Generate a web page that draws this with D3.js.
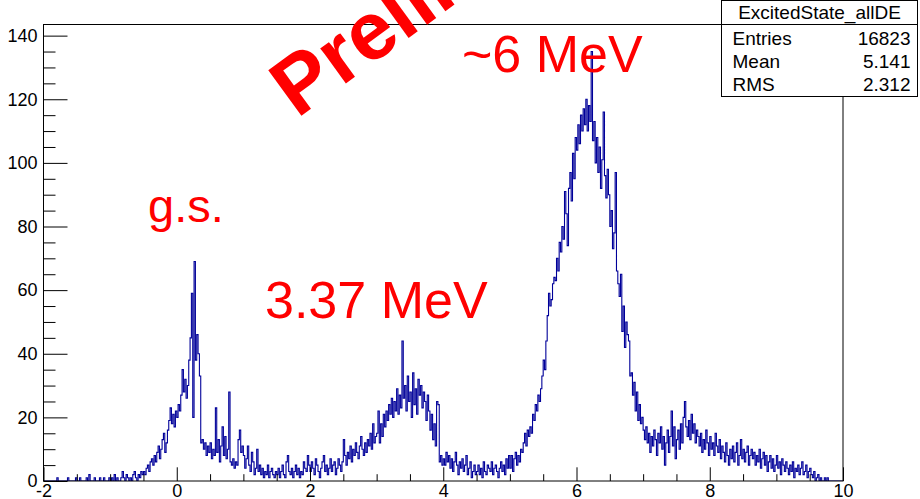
<!DOCTYPE html>
<html>
<head>
<meta charset="utf-8">
<script src="https://cdn.jsdelivr.net/npm/d3@7"></script>
<style>
  html, body { margin: 0; padding: 0; background: #ffffff; }
  svg { display: block; }
  text { font-family: "Liberation Sans", Arial, Helvetica, sans-serif; }
</style>
</head>
<body>
<svg id="chart" width="920" height="499"></svg>
<script>
// Histogram range and bin contents (600 bins of 0.02 MeV from -2 to 10)
const xRange = [-2, 10];
const counts = [
  // -2.00 .. -1.52
  0,0,0,0,0,0,0,0,0,0,1,0,0,0,0,0,0,0,1,0,0,0,0,0,1,
  // -1.50 .. -1.02
  0,0,1,0,0,0,0,1,0,2,0,0,0,1,0,0,0,1,0,0,1,0,0,0,1,
  // -1.00 .. -0.52
  0,1,0,2,0,1,0,0,1,3,1,0,2,1,0,1,0,2,3,1,0,2,1,3,2,
  // -0.50 .. -0.02
  3,2,4,5,3,6,7,5,8,6,9,11,7,10,13,15,9,12,16,19,23,18,21,17,22,
  // 0.00 .. 0.48
  20,24,22,27,35,28,32,26,30,38,45,59,20,69,38,46,40,33,12,13,10,12,8,11,9,
  // 0.50 .. 0.98
  12,7,10,8,23,9,13,6,11,17,8,14,7,10,28,6,5,7,4,6,5,13,16,9,11,
  // 1.00 .. 1.48
  8,4,7,11,5,3,9,6,2,4,10,3,5,2,4,1,3,2,5,1,3,4,2,1,3,
  // 1.50 .. 1.98
  2,4,1,3,5,2,1,6,8,3,2,4,1,3,5,2,4,1,3,2,6,4,3,8,5,
  // 2.00 .. 2.48
  3,6,4,2,7,5,3,1,4,6,8,3,5,2,4,7,3,5,6,2,4,7,5,3,6,
  // 2.50 .. 2.98
  13,8,5,9,7,11,6,10,8,12,9,7,11,14,10,8,12,9,13,11,15,10,18,12,14,
  // 3.00 .. 3.48
  15,22,12,18,14,21,17,22,19,24,21,26,20,25,22,29,21,27,23,44,26,30,22,33,25,
  // 3.50 .. 3.98
  28,20,34,24,29,21,32,27,30,23,28,25,19,27,22,16,21,13,18,11,25,24,6,8,5,
  // 4.00 .. 4.48
  7,5,9,6,8,4,7,3,6,9,5,2,6,4,7,3,5,8,2,4,6,1,3,5,2,
  // 4.50 .. 4.98
  3,5,2,4,1,6,3,2,5,4,3,6,2,4,5,3,1,4,6,3,5,2,7,4,8,
  // 5.00 .. 5.48
  4,8,3,7,9,5,8,6,10,9,12,15,11,16,14,17,15,21,19,24,22,27,25,29,33,
  // 5.50 .. 5.98
  38,35,44,52,59,55,57,62,64,63,70,66,75,72,80,76,91,84,74,92,97,88,103,95,108,
  // 6.00 .. 6.48
  104,112,106,115,110,117,112,120,110,118,113,135,107,113,100,108,97,105,92,101,116,96,89,98,90,
  // 6.50 .. 6.98
  80,85,73,78,97,66,62,58,65,47,55,42,50,46,44,33,34,27,31,22,28,19,24,18,20,
  // 7.00 .. 7.48
  16,13,17,12,15,9,14,11,16,13,8,15,12,17,10,14,5,12,16,9,14,22,11,17,7,
  // 7.50 .. 7.98
  13,16,10,18,12,20,25,17,14,19,13,21,15,18,12,16,14,11,15,9,13,10,16,12,8,
  // 8.00 .. 8.48
  14,10,12,8,15,11,9,13,7,11,9,6,12,8,5,10,7,11,6,9,12,5,8,13,7,
  // 8.50 .. 8.98
  10,6,9,11,5,8,10,7,9,5,8,6,10,4,7,9,5,8,3,6,8,4,7,3,5,
  // 9.00 .. 9.48
  8,4,6,2,7,5,3,6,4,2,5,3,6,1,4,3,5,2,4,6,2,3,5,1,3,
  // 9.50 .. 9.98
  4,2,1,3,0,1,2,0,1,0,0,1,0,1,0,0,0,0,0,0,0,0,0,0,0
];

const xTickValues = [-2, 0, 2, 4, 6, 8, 10];
const yTickValues = [0, 20, 40, 60, 80, 100, 120, 140];
const yMax = 143.5;

const statsTitle = "ExcitedState_allDE";
const statsLabels = ["Entries", "Mean", "RMS"];
const statsValues = ["16823", "5.141", "2.312"];

const peakLabels = ["g.s.", "3.37 MeV", "~6 MeV"];
const watermark = "Preliminary";

// ---- drawing ----
const frame = { left: 43.5, right: 843, top: 24.5, bottom: 481 };
const lineColor = "#000099";

const svg = d3.select("#chart");

const x = d3.scaleLinear().domain(xRange).range([frame.left, frame.right]);
const y = d3.scaleLinear().domain([0, yMax]).range([frame.bottom, frame.top]);

const nBins = counts.length;
const binW = (xRange[1] - xRange[0]) / nBins;

// clip for the histogram
svg.append("defs").append("clipPath").attr("id", "frameClip")
  .append("rect")
  .attr("x", frame.left).attr("y", frame.top)
  .attr("width", frame.right - frame.left).attr("height", frame.bottom - frame.top);

// step outline
const stepPts = counts.map((c, i) => [xRange[0] + i * binW, c]);
stepPts.push([xRange[1], counts[nBins - 1]]);
const line = d3.line()
  .x(d => x(d[0]))
  .y(d => y(d[1]))
  .curve(d3.curveStepAfter);

svg.append("path")
  .attr("clip-path", "url(#frameClip)")
  .attr("d", line(stepPts))
  .attr("fill", "none")
  .attr("stroke", lineColor)
  .attr("stroke-width", 1.1);

// frame
svg.append("rect")
  .attr("x", frame.left).attr("y", frame.top)
  .attr("width", frame.right - frame.left).attr("height", frame.bottom - frame.top)
  .attr("fill", "none").attr("stroke", "#000").attr("stroke-width", 1);

// y axis (ticks pointing into the frame)
const yMajorLen = 24, yMinorLen = 12;
const yAxis = svg.append("g")
  .attr("transform", `translate(${frame.left},0)`)
  .call(d3.axisLeft(y).tickValues(yTickValues).tickSize(-yMajorLen).tickPadding(6)
    .tickFormat(d3.format("d")));
yAxis.select(".domain").remove();
yAxis.selectAll("text").attr("font-size", 18).attr("fill", "#000")
  .style("font-family", "'Liberation Sans', Arial, sans-serif");
const yMinor = svg.append("g")
  .attr("transform", `translate(${frame.left},0)`)
  .call(d3.axisLeft(y).tickValues(d3.range(0, yMax, 5).filter(v => v % 20 !== 0))
    .tickSize(-yMinorLen).tickFormat(""));
yMinor.select(".domain").remove();

// x axis
const xMajorLen = 13.7, xMinorLen = 6.8;
const xAxis = svg.append("g")
  .attr("transform", `translate(0,${frame.bottom})`)
  .call(d3.axisBottom(x).tickValues(xTickValues).tickSize(-xMajorLen).tickPadding(3)
    .tickFormat(d3.format("d")));
xAxis.select(".domain").remove();
xAxis.selectAll("text").attr("font-size", 18).attr("fill", "#000")
  .text(d => d < 0 ? "-" + Math.abs(d) : d)
  .style("font-family", "'Liberation Sans', Arial, sans-serif");
const xMinor = svg.append("g")
  .attr("transform", `translate(0,${frame.bottom})`)
  .call(d3.axisBottom(x).tickValues(d3.range(-1.5, 10, 0.5).filter(v => Math.abs(v % 2) > 1e-9))
    .tickSize(-xMinorLen).tickFormat(""));
xMinor.select(".domain").remove();

svg.selectAll(".tick line").attr("stroke", "#000").attr("stroke-width", 1);

// peak annotations
const labelPos = [[148, 222, 47], [265, 318, 52], [462, 72, 52]];
svg.append("g").selectAll("text").data(peakLabels).join("text")
  .attr("x", (d, i) => labelPos[i][0])
  .attr("y", (d, i) => labelPos[i][1])
  .attr("font-size", (d, i) => labelPos[i][2])
  .attr("fill", "#ff0000")
  .text(d => d);

// watermark
svg.append("text")
  .attr("transform", "translate(297,119) rotate(-36)")
  .attr("font-size", 82)
  .attr("font-weight", "bold")
  .attr("fill", "#ff0000")
  .text(watermark);

// statistics box
const box = { x: 721.5, y: 0.5, w: 196, h: 96, titleH: 24 };
const stats = svg.append("g");
stats.append("rect")
  .attr("x", box.x).attr("y", box.y).attr("width", box.w).attr("height", box.h)
  .attr("fill", "#fff").attr("stroke", "#000").attr("stroke-width", 1);
stats.append("line")
  .attr("x1", box.x).attr("x2", box.x + box.w)
  .attr("y1", box.y + box.titleH).attr("y2", box.y + box.titleH)
  .attr("stroke", "#000");
stats.append("text")
  .attr("x", box.x + box.w / 2).attr("y", 18.5)
  .attr("text-anchor", "middle").attr("font-size", 19)
  .text(statsTitle);
statsLabels.forEach((lab, i) => {
  const by = 45 + i * 23;
  stats.append("text").attr("x", box.x + 11).attr("y", by)
    .attr("font-size", 19).text(lab);
  stats.append("text").attr("x", box.x + box.w - 7).attr("y", by)
    .attr("font-size", 19).attr("text-anchor", "end").text(statsValues[i]);
});
</script>
</body>
</html>
